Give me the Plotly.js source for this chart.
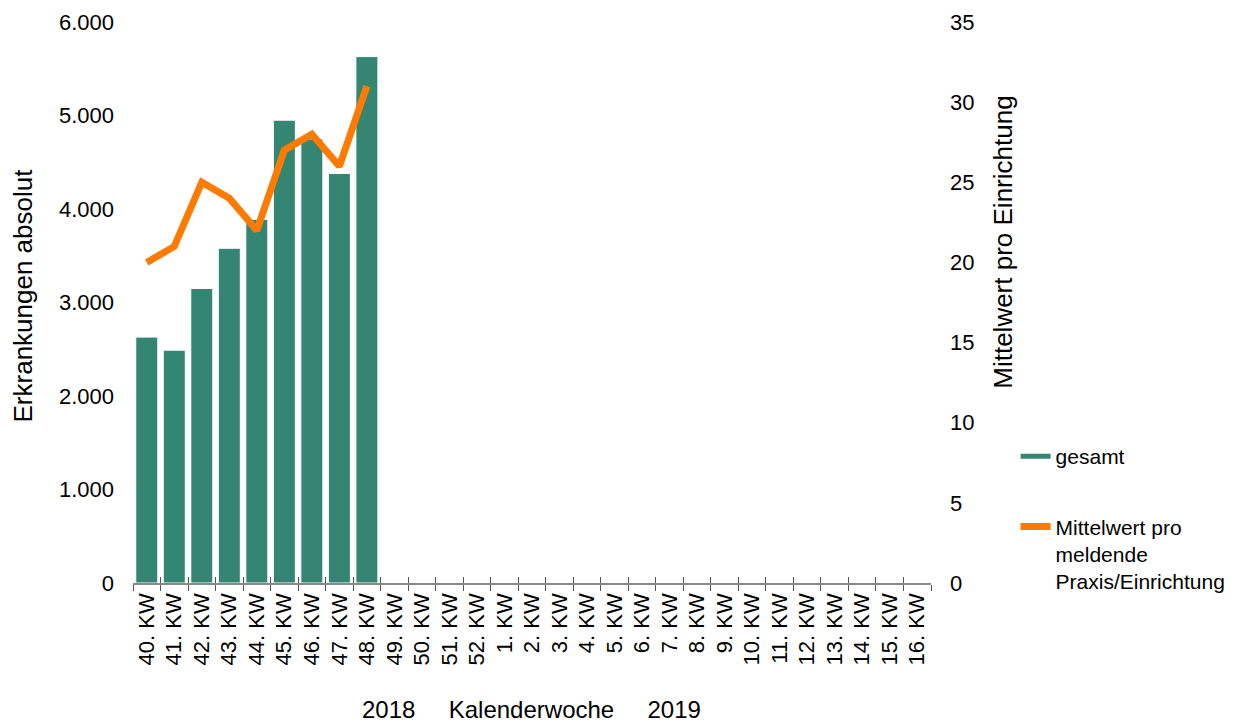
<!DOCTYPE html>
<html>
<head>
<meta charset="utf-8">
<script src="https://cdn.plot.ly/plotly-3.0.1.min.js"></script>
<style>html,body{margin:0;padding:0;background:#fff;}#chart{width:1243px;height:724px;}</style>
</head>
<body>
<div id="chart"></div>
<script>
// Kalenderwochen 2018/2019
const weeks = ["40. KW","41. KW","42. KW","43. KW","44. KW","45. KW","46. KW","47. KW","48. KW",
  "49. KW","50. KW","51. KW","52. KW","1. KW","2. KW","3. KW","4. KW","5. KW","6. KW","7. KW",
  "8. KW","9. KW","10. KW","11. KW","12. KW","13. KW","14. KW","15. KW","16. KW"];
// Erkrankungen absolut (gesamt)
const totalCases = [2630, 2490, 3150, 3580, 3890, 4950, 4750, 4380, 5630];
// Mittelwert pro meldende Praxis/Einrichtung
const meanPerPractice = [20, 21, 25, 24, 22, 27, 28, 26, 31];

const yLeftTicks = [0, 1000, 2000, 3000, 4000, 5000, 6000];
const yRightTicks = [0, 5, 10, 15, 20, 25, 30, 35];

const GREEN = '#348673';
const ORANGE = '#ff7a00';
const FONT = 'Liberation Sans, Arial, sans-serif';

const reported = weeks.slice(0, totalCases.length);

const traces = [
  {
    type: 'bar', x: reported, y: totalCases, xaxis: 'x', yaxis: 'y',
    marker: {color: GREEN, line: {color: '#ffffff', width: 1}},
    showlegend: false, name: 'gesamt', hoverinfo: 'x+y'
  },
  {
    type: 'scatter', mode: 'lines', x: [weeks[0]], y: [null], xaxis: 'x', yaxis: 'y',
    name: 'gesamt', legendgroup: 'a', line: {color: GREEN, width: 5}, hoverinfo: 'skip'
  },
  {
    type: 'scatter', mode: 'lines', x: weeks.slice(0, meanPerPractice.length), y: meanPerPractice,
    xaxis: 'x2', yaxis: 'y2', legendgroup: 'b',
    name: 'Mittelwert pro<br>meldende<br>Praxis/Einrichtung',
    line: {color: ORANGE, width: 7}
  }
];

const xCommon = {
  type: 'category', categoryorder: 'array', categoryarray: weeks,
  range: [-0.5, weeks.length - 0.5], tickson: 'boundaries',
  showgrid: false, zeroline: false, fixedrange: true
};

const layout = {
  width: 1243, height: 724,
  margin: {l: 133, r: 310, t: 22, b: 141, pad: 0},
  paper_bgcolor: '#ffffff', plot_bgcolor: '#ffffff',
  separators: ',.',
  font: {family: FONT, color: '#000000', size: 22},
  bargap: 0.2,
  showlegend: true,
  legend: {
    x: 1.106, xanchor: 'left', y: 0.262, yanchor: 'top',
    font: {family: FONT, size: 21, color: '#000'},
    traceorder: 'grouped', tracegroupgap: 40, valign: 'top',
    bgcolor: 'rgba(0,0,0,0)', borderwidth: 0
  },
  xaxis: Object.assign({}, xCommon, {
    anchor: 'y', ticks: 'outside', ticklen: 6, tickwidth: 1, tickcolor: '#555',
    showline: true, linecolor: '#888', linewidth: 1.5,
    tickangle: -90, tickfont: {family: FONT, size: 22, color: '#000'}
  }),
  xaxis2: Object.assign({}, xCommon, {
    anchor: 'y', overlaying: 'x', matches: 'x', side: 'bottom',
    ticks: 'inside', ticklen: 6, tickwidth: 1, tickcolor: '#555',
    showline: false, showticklabels: false
  }),
  yaxis: {
    range: [0, 6000], tickvals: yLeftTicks, tickformat: ',d',
    showgrid: false, zeroline: false, showline: false, ticks: '',
    ticklabelstandoff: 18, tickfont: {family: FONT, size: 22, color: '#000'},
    fixedrange: true
  },
  yaxis2: {
    range: [0, 35], tickvals: yRightTicks, overlaying: 'y', side: 'right', anchor: 'x2',
    showgrid: false, zeroline: false, showline: false, ticks: '',
    ticklabelstandoff: 18, tickfont: {family: FONT, size: 22, color: '#000'},
    fixedrange: true
  },
  annotations: [
    {
      text: 'Erkrankungen absolut', textangle: -90,
      xref: 'paper', yref: 'paper', x: -0.1375, y: 0.513, xanchor: 'center', yanchor: 'middle',
      showarrow: false, font: {family: FONT, size: 26, color: '#000'}
    },
    {
      text: 'Mittelwert pro Einrichtung', textangle: -90,
      xref: 'paper', yref: 'paper', x: 1.09, y: 0.608, xanchor: 'center', yanchor: 'middle',
      showarrow: false, font: {family: FONT, size: 26, color: '#000'}
    },
    {
      text: '2018\u00a0\u00a0\u00a0\u00a0\u00a0Kalenderwoche\u00a0\u00a0\u00a0\u00a0\u00a02019',
      xref: 'paper', yref: 'paper', x: 0.499, y: -0.226, xanchor: 'center', yanchor: 'middle',
      showarrow: false, font: {family: FONT, size: 24, color: '#000'}
    }
  ]
};

Plotly.newPlot('chart', traces, layout, {displayModeBar: false, staticPlot: true});
</script>
</body>
</html>
